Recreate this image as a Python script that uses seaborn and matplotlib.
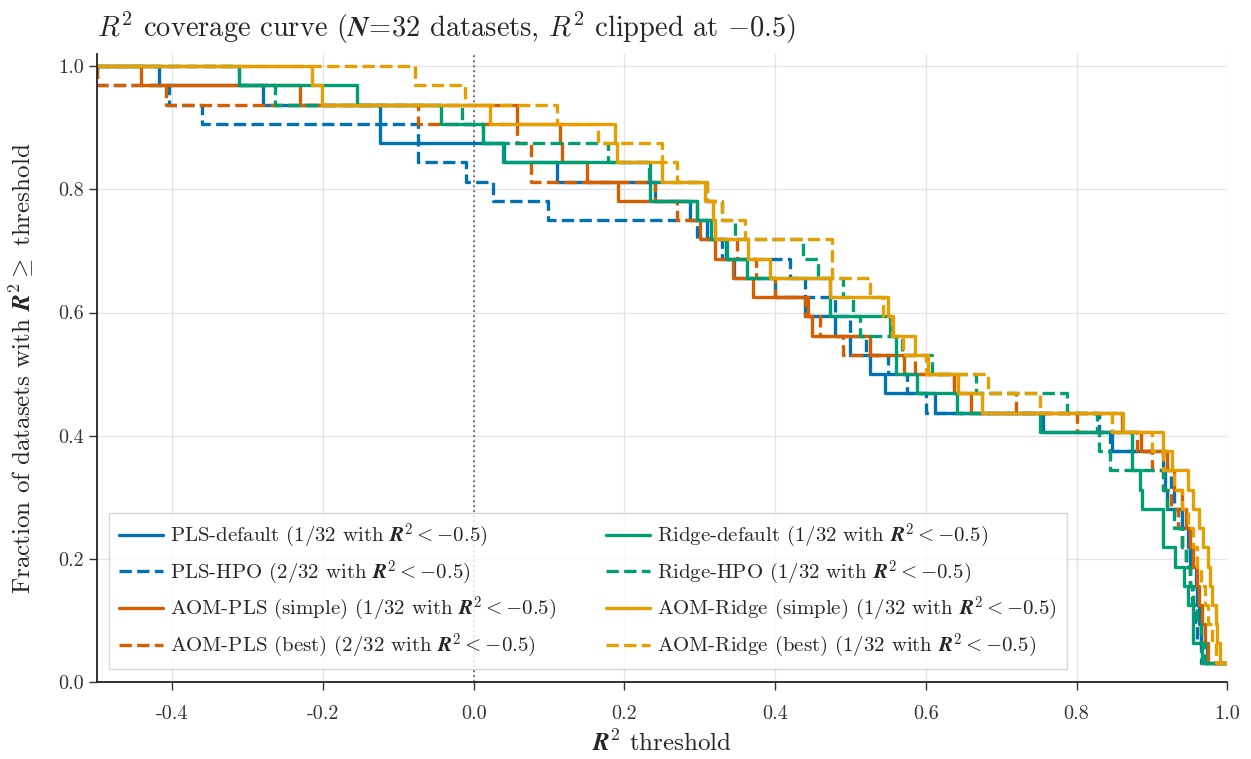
import numpy as np
import pandas as pd
import matplotlib
matplotlib.use("Agg")
import matplotlib.pyplot as plt
import seaborn as sns

N = 32
CLIP = -0.5

# Per-dataset R^2 for each model (sorted, clipped at -0.5)
pls_default = [-0.5, -0.417, -0.28, -0.125, -0.125, 0.04, 0.11, 0.24, 0.287, 0.31, 0.335, 0.345,
               0.40, 0.44, 0.48, 0.50, 0.526, 0.546, 0.612, 0.755, 0.847, 0.915, 0.918, 0.92,
               0.94, 0.948, 0.95, 0.958, 0.96, 0.963, 0.965, 0.973]
pls_hpo = [-0.5, -0.5, -0.405, -0.36, -0.074, -0.074, -0.01, 0.025, 0.098, 0.296, 0.33, 0.42,
           0.44, 0.48, 0.50, 0.52, 0.55, 0.575, 0.60, 0.83, 0.845, 0.92, 0.925, 0.93,
           0.935, 0.94, 0.945, 0.95, 0.953, 0.957, 0.96, 0.965]
aom_pls_simple = [-0.5, -0.441, -0.231, 0.057, 0.114, 0.117, 0.150, 0.191, 0.296, 0.300, 0.32, 0.344,
                  0.370, 0.443, 0.449, 0.526, 0.571, 0.637, 0.66, 0.86, 0.885, 0.92, 0.93, 0.94,
                  0.945, 0.95, 0.955, 0.96, 0.963, 0.966, 0.97, 0.975]
aom_pls_best = [-0.5, -0.5, -0.408, -0.074, 0.057, 0.076, 0.076, 0.24, 0.27, 0.32, 0.35, 0.375,
                0.40, 0.44, 0.46, 0.49, 0.585, 0.637, 0.72, 0.80, 0.88, 0.90, 0.915, 0.925,
                0.935, 0.94, 0.945, 0.95, 0.955, 0.96, 0.965, 0.97]
ridge_default = [-0.5, -0.311, -0.155, -0.043, 0.012, 0.039, 0.234, 0.234, 0.296, 0.315, 0.336, 0.363,
                 0.473, 0.473, 0.553, 0.56, 0.56, 0.588, 0.641, 0.752, 0.874, 0.874, 0.884, 0.887,
                 0.915, 0.915, 0.931, 0.942, 0.948, 0.954, 0.954, 0.967]
ridge_hpo = [-0.5, -0.311, -0.264, -0.016, 0.012, 0.178, 0.233, 0.31, 0.33, 0.347, 0.437, 0.457,
             0.49, 0.503, 0.513, 0.568, 0.608, 0.667, 0.787, 0.827, 0.83, 0.845, 0.915, 0.92,
             0.93, 0.94, 0.945, 0.95, 0.955, 0.96, 0.965, 0.97]
aom_ridge_simple = [-0.5, -0.214, -0.202, 0.021, 0.188, 0.190, 0.25, 0.307, 0.318, 0.320, 0.364, 0.393,
                    0.473, 0.550, 0.557, 0.586, 0.603, 0.643, 0.675, 0.862, 0.915, 0.927, 0.948, 0.955,
                    0.962, 0.968, 0.975, 0.977, 0.980, 0.985, 0.987, 0.990]
aom_ridge_best = [-0.5, -0.078, -0.012, 0.11, 0.165, 0.25, 0.27, 0.31, 0.33, 0.36, 0.475, 0.475,
                  0.526, 0.543, 0.555, 0.57, 0.60, 0.683, 0.752, 0.847, 0.90, 0.915, 0.93, 0.94,
                  0.948, 0.955, 0.96, 0.965, 0.97, 0.975, 0.98, 0.985]

model_names = ["PLS-default", "PLS-HPO", "AOM-PLS (simple)", "AOM-PLS (best)",
               "Ridge-default", "Ridge-HPO", "AOM-Ridge (simple)", "AOM-Ridge (best)"]
model_scores = [pls_default, pls_hpo, aom_pls_simple, aom_pls_best,
                ridge_default, ridge_hpo, aom_ridge_simple, aom_ridge_best]
n_below_clip = [1, 2, 1, 2, 1, 1, 1, 1]

# Okabe-Ito colours
BLUE, VERMILLION, GREEN, ORANGE = "#0072B2", "#D55E00", "#009E73", "#E69F00"
model_colors = [BLUE, BLUE, VERMILLION, VERMILLION, GREEN, GREEN, ORANGE, ORANGE]
model_styles = ["-", "--", "-", "--", "-", "--", "-", "--"]

sns.set_theme(style="ticks")
plt.rcParams.update({
    "font.family": "serif",
    "font.serif": ["cmr10", "DejaVu Serif"],
    "mathtext.fontset": "cm",
    "axes.unicode_minus": False,
    "axes.formatter.use_mathtext": True,
})

fig = plt.figure(figsize=(12.51, 7.59), dpi=100)
ax = fig.add_axes([0.0775, 0.1015, 0.9035, 0.8275])

R2B = r"\boldsymbol{R}^2"
for name, scores, nb, col, ls in zip(model_names, model_scores, n_below_clip,
                                     model_colors, model_styles):
    xs = np.sort(np.clip(np.asarray(scores, float), CLIP, 1.0))
    ys = (N - np.arange(N)) / N
    xs = np.append(xs, 1.0)
    ys = np.append(ys, ys[-1])
    df = pd.DataFrame({"x": xs, "y": ys})
    sns.lineplot(data=df, x="x", y="y", ax=ax, estimator=None, sort=False,
                 drawstyle="steps-post", color=col, linestyle=ls, linewidth=2.4,
                 label=f"{name} ({nb}/{N} with ${R2B} < -0.5$)")

ax.axvline(0.0, color="#555555", linestyle=(0, (1, 2)), linewidth=1.2, zorder=1)

ax.set_xlim(-0.5, 1.0)
ax.set_ylim(0.0, 1.02)
ax.set_xticks(np.arange(-0.4, 1.01, 0.2))
ax.set_yticks(np.arange(0.0, 1.01, 0.2))
ax.xaxis.set_major_formatter(matplotlib.ticker.FuncFormatter(lambda v, p: f"{v:.1f}"))
ax.yaxis.set_major_formatter(matplotlib.ticker.FuncFormatter(lambda v, p: f"{v:.1f}"))
ax.grid(True, color="#e3e3e3", linewidth=0.9)
ax.set_axisbelow(True)
ax.tick_params(labelsize=14.5, length=6, width=1, colors="#333333")
ax.tick_params(axis="x", pad=11)
for s in ("left", "bottom"):
    ax.spines[s].set_color("#222222")
    ax.spines[s].set_linewidth(1.3)
sns.despine(ax=ax)

ax.set_xlabel(f"${R2B}$ threshold", fontsize=18, labelpad=5)
ax.set_ylabel(f"Fraction of datasets with ${R2B} \\geq$ threshold", fontsize=18, labelpad=16)

title_bold = (r"$R^2$ coverage curve ($\boldsymbol{N}\!=\!\mathbf{32}$ datasets, "
              r"$R^2$ clipped at $-0.5$)")
ax.set_title(title_bold, loc="left", fontsize=20.5, pad=12)

leg = ax.legend(loc="lower left", ncol=2, fontsize=15.0, frameon=True, fancybox=False,
                handlelength=2.1, handletextpad=0.35, columnspacing=2.4,
                labelspacing=0.4, borderaxespad=0.6, borderpad=0.45)
leg.get_frame().set_edgecolor("#cccccc")
leg.get_frame().set_linewidth(1.0)

fig.savefig("out.png", dpi=100)
